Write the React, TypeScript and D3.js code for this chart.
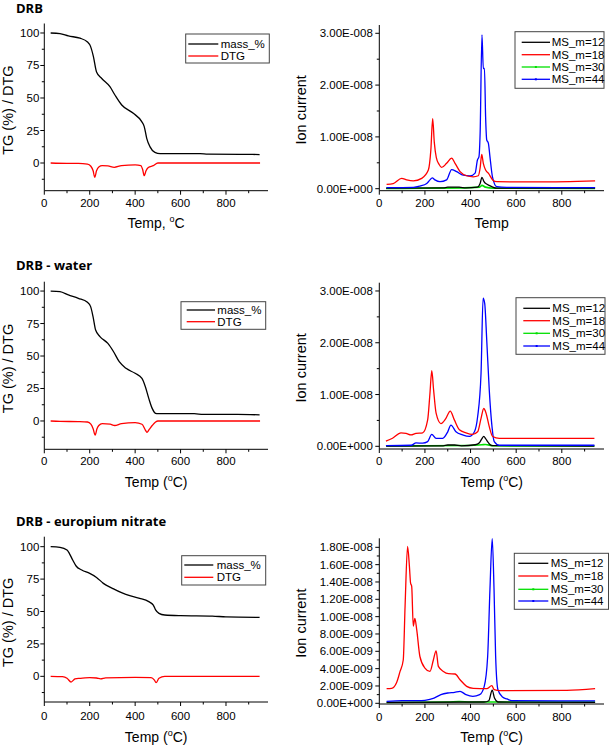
import React from "react";
import * as d3 from "d3";

type Pt = [number, number];

// ---------- DATA ----------
const X_DOMAIN: [number, number] = [0, 985];
const X_MAJOR = [0, 200, 400, 600, 800];
const X_MINOR = [100, 300, 500, 700, 900];
const TG_MAJOR = [0, 25, 50, 75, 100];
const TG_MINOR = [-12.5, 12.5, 37.5, 62.5, 87.5];
const MS_MAJOR_A = [0, 1, 2, 3]; // x 1e-8
const MS_MINOR_A = [0.5, 1.5, 2.5];
const MS_MAJOR_B = [0, 2, 4, 6, 8, 10, 12, 14, 16, 18]; // x 1e-9
const MS_MINOR_B = [1, 3, 5, 7, 9, 11, 13, 15, 17];
const UNIT_A = 1e-8;
const UNIT_B = 1e-9;

const TITLES = ["DRB", "DRB - water", "DRB - europium nitrate"];
const TG_SERIES = ["mass_%", "DTG"];
const MS_SERIES = ["MS_m=12", "MS_m=18", "MS_m=30", "MS_m=44"];

// Row 1: DRB
const drbMass: Pt[] = [[28,100],[69,99.5],[106,97.7],[157,96],[189,93.3],[204,89.5],[216,82],[230,70],[253,65],[289,58.7],[311,52.3],[341,44.6],[392,38.2],[429,31.8],[440,28],[451,19],[465,12.6],[487,8.2],[510,7.2],[686,7.2],[720,6.8],[862,6.7],[948,6.5]];
const drbDtg: Pt[] = [[28,0],[100,-0.3],[150,-0.3],[190,-0.8],[205,-2.5],[215,-6],[222,-11],[230,-6],[240,-3],[255,-2],[280,-2.2],[308,-3.3],[340,-2],[400,-1.5],[425,-2],[433,-5],[440,-9.7],[448,-6],[458,-3.5],[480,-2],[500,0],[950,0]];
const drbM12: Pt[] = [[30,0.01],[280,0.015],[300,0.03],[350,0.03],[380,0.015],[430,0.03],[442,0.1],[450,0.22],[459,0.135],[474,0.08],[493,0.04],[515,0.01],[946,0.01]];
const drbM18: Pt[] = [[32,0.084],[61,0.1],[98,0.2],[120,0.17],[149,0.15],[186,0.2],[215,0.36],[226,0.75],[234,1.35],[241,0.9],[250,0.6],[262,0.47],[273,0.41],[295,0.49],[317,0.59],[332,0.49],[354,0.33],[383,0.25],[412,0.23],[434,0.25],[442,0.4],[449,0.66],[456,0.49],[466,0.36],[478,0.3],[497,0.17],[515,0.135],[700,0.13],[946,0.15]];
const drbM30: Pt[] = [[30,0.005],[200,0.01],[400,0.02],[440,0.03],[450,0.065],[465,0.03],[500,0.01],[946,0.005]];
const drbM44: Pt[] = [[32,0.02],[150,0.025],[178,0.05],[208,0.1],[222,0.17],[232,0.21],[244,0.17],[266,0.135],[295,0.17],[317,0.37],[339,0.33],[368,0.26],[398,0.245],[420,0.3],[430,0.55],[437,0.62],[442,1.07],[450,2.97],[456,2.32],[461,2.32],[466,1.39],[471,0.94],[478,0.88],[485,0.62],[496,0.23],[515,0.04],[558,0.025],[946,0.02]];

// Row 2: DRB - water
const watMass: Pt[] = [[28,100],[69,99.5],[106,97],[150,94.4],[190,91.3],[204,88],[215,80],[226,70],[245,65],[280,59.7],[305,53.3],[330,45.6],[360,40.5],[400,36.7],[430,32.8],[445,26.4],[460,17.4],[475,9.7],[490,5.9],[500,5.6],[660,5.6],[700,5.1],[850,5.1],[948,4.7]];
const watDtg: Pt[] = [[28,0],[70,-0.3],[150,-0.5],[190,-0.8],[205,-2.5],[215,-6],[224,-10.8],[232,-6],[240,-3.5],[255,-2],[290,-2.5],[310,-3.5],[340,-2],[400,-1.3],[430,-2.5],[445,-7],[452,-8.7],[462,-6.5],[475,-3.5],[490,-0.8],[500,0],[950,0]];
const watM12: Pt[] = [[30,0.005],[280,0.01],[300,0.025],[330,0.025],[360,0.01],[420,0.03],[439,0.07],[450,0.15],[458,0.19],[466,0.15],[475,0.09],[494,0.013],[943,0.005]];
const watM18: Pt[] = [[29,0.1],[58,0.155],[95,0.26],[117,0.25],[139,0.22],[161,0.25],[190,0.26],[212,0.51],[222,1.02],[230,1.46],[238,1.09],[249,0.64],[270,0.44],[292,0.54],[311,0.68],[329,0.51],[351,0.32],[380,0.26],[409,0.23],[431,0.28],[446,0.54],[458,0.73],[468,0.64],[482,0.38],[497,0.19],[526,0.155],[943,0.155]];
const watM30: Pt[] = [[30,0.005],[200,0.01],[400,0.015],[450,0.03],[465,0.035],[500,0.01],[943,0.005]];
const watM44: Pt[] = [[29,0.013],[140,0.02],[161,0.065],[190,0.06],[212,0.09],[230,0.23],[249,0.155],[278,0.155],[300,0.28],[314,0.41],[336,0.28],[365,0.22],[395,0.19],[417,0.28],[431,0.57],[446,1.41],[455,2.86],[462,2.76],[471,2.05],[482,1.09],[494,0.38],[504,0.09],[526,0.02],[943,0.02]];

// Row 3: DRB - europium nitrate
const euMass: Pt[] = [[28,100],[69,99.5],[100,97.4],[110,94.9],[125,89.7],[140,85.1],[165,82],[200,79.4],[230,76.3],[260,71.7],[300,67.9],[340,64.5],[380,62],[420,60.2],[460,57.6],[480,55],[490,51.2],[505,48.6],[530,47.3],[600,46.8],[740,46.5],[800,45.8],[948,45.5]];
const euDtg: Pt[] = [[28,0],[80,-0.3],[100,-1.5],[118,-4.4],[135,-2],[150,-1.5],[160,-1.5],[200,-1],[230,-1.3],[248,-2],[270,-1.2],[400,-0.8],[470,-1],[485,-3],[492,-4.9],[505,-1.5],[530,0],[948,0]];
const euM12: Pt[] = [[32,0.11],[460,0.15],[480,0.3],[495,1.53],[505,0.6],[520,0.15],[946,0.11]];
const euM18: Pt[] = [[32,1.69],[54,1.73],[76,2.4],[91,3.68],[105,5.0],[113,11.2],[124,18.1],[132,15.8],[137,13.9],[142,13.5],[149,8.9],[156,9.8],[164,8.5],[178,5.4],[200,4.07],[222,3.68],[237,5.0],[249,6.06],[259,4.26],[281,3.68],[303,3.42],[332,3.38],[354,2.72],[383,1.96],[412,1.73],[471,1.69],[493,2.03],[504,1.57],[529,1.46],[822,1.5],[946,1.69]];
const euM30: Pt[] = [[32,0.1],[300,0.15],[350,0.2],[400,0.15],[946,0.15]];
const euM44: Pt[] = [[32,0.23],[100,0.3],[170,0.3],[200,0.35],[240,0.6],[270,1.0],[300,1.19],[330,1.27],[354,1.38],[380,1.0],[410,0.8],[440,1.0],[460,1.96],[475,5.4],[485,13.1],[495,19.0],[503,13.1],[510,5.4],[520,1.57],[540,0.73],[560,0.5],[580,0.3],[946,0.27]];

// ---------- STYLE / LAYOUT ----------
const FONT = "'Liberation Sans', Arial, sans-serif";
const TITLE_FONT = "'Open Sans', 'Liberation Sans', sans-serif";
const TG_COLORS = ["#000000", "#ff0000"];
const MS_COLORS = ["#000000", "#ff0000", "#00e000", "#0000ff"];
const LEFT_X: [number, number] = [44.3, 268];
const RIGHT_X: [number, number] = [379.3, 604];

function sci(v: number): string {
  if (v === 0) return "0.00E+000";
  let e = Math.floor(Math.log10(Math.abs(v)) + 1e-9);
  let m = v / Math.pow(10, e);
  if (Math.abs(m) >= 9.995) { m /= 10; e += 1; }
  return m.toFixed(2) + "E" + (e < 0 ? "-" : "+") + String(Math.abs(e)).padStart(3, "0");
}

function XTitle({ x, y, degree, paren }: { x: number; y: number; degree: boolean; paren: boolean }) {
  if (!degree) return <text x={x} y={y} textAnchor="middle" fontSize={14} fontFamily={FONT}>Temp</text>;
  return (
    <text x={x} y={y} textAnchor="middle" fontSize={14} fontFamily={FONT}>
      {paren ? "Temp (" : "Temp, "}
      <tspan fontSize={9} dy={-6}>o</tspan>
      <tspan dy={6}>{paren ? "C)" : "C"}</tspan>
    </text>
  );
}

function BottomAxis({ x, y, labelDy }: { x: d3.ScaleLinear<number, number>; y: number; labelDy: number }) {
  const r = x.range();
  return (
    <g>
      <line x1={r[0]} x2={r[1]} y1={y} y2={y} stroke="#000" strokeWidth={1} />
      {X_MAJOR.map((t) => (
        <g key={"M" + t}>
          <line x1={x(t)} x2={x(t)} y1={y} y2={y + 4} stroke="#000" />
          <text x={x(t)} y={y + labelDy} textAnchor="middle" fontSize={11.5} fontFamily={FONT}>{t}</text>
        </g>
      ))}
      {X_MINOR.map((t) => (
        <line key={"m" + t} x1={x(t)} x2={x(t)} y1={y} y2={y + 2.5} stroke="#000" />
      ))}
    </g>
  );
}

function LeftAxis({ y, x0, major, minor, fmt, gap }: { y: d3.ScaleLinear<number, number>; x0: number; major: number[]; minor: number[]; fmt: (v: number) => string; gap: number }) {
  const r = y.range();
  return (
    <g>
      <line x1={x0} x2={x0} y1={r[0]} y2={r[1]} stroke="#000" />
      {major.map((t) => (
        <g key={"M" + t}>
          <line x1={x0 - 4} x2={x0} y1={y(t)} y2={y(t)} stroke="#000" />
          <text x={x0 - gap} y={y(t) + 4} textAnchor="end" fontSize={11.5} fontFamily={FONT}>{fmt(t)}</text>
        </g>
      ))}
      {minor.map((t) => (
        <line key={"m" + t} x1={x0 - 2.5} x2={x0} y1={y(t)} y2={y(t)} stroke="#000" />
      ))}
    </g>
  );
}

type LegendCfg = { x0: number; x1: number; y0: number; y1: number; rows: number[]; lx0: number; lx1: number; tx: number };

function Legend({ cfg, labels, colors, markers }: { cfg: LegendCfg; labels: string[]; colors: string[]; markers?: boolean[] }) {
  return (
    <g>
      <rect x={cfg.x0} y={cfg.y0} width={cfg.x1 - cfg.x0} height={cfg.y1 - cfg.y0} fill="#fff" stroke="#444" strokeWidth={1} />
      {labels.map((l, i) => (
        <g key={l}>
          <line x1={cfg.lx0} x2={cfg.lx1} y1={cfg.rows[i]} y2={cfg.rows[i]} stroke={colors[i]} strokeWidth={1.3} />
          {markers && markers[i] && (
            <rect x={(cfg.lx0 + cfg.lx1) / 2 - 1} y={cfg.rows[i] - 1} width={2} height={2} fill={colors[i]} />
          )}
          <text x={cfg.tx} y={cfg.rows[i] + 4} fontSize={11.5} fontFamily={FONT}>{l}</text>
        </g>
      ))}
    </g>
  );
}

type TGCfg = {
  title: string; titleY: number; top: number; bottom: number; domain: [number, number];
  mass: Pt[]; dtg: Pt[]; legend: LegendCfg; labelDy: number; xTitleY: number; degreeParen: boolean;
};

function TGPanel({ c }: { c: TGCfg }) {
  const x = d3.scaleLinear().domain(X_DOMAIN).range(LEFT_X);
  const y = d3.scaleLinear().domain(c.domain).range([c.bottom, c.top]);
  const line = d3.line<Pt>().x((d) => x(d[0])).y((d) => y(d[1])).curve(d3.curveMonotoneX);
  return (
    <g>
      <text x={16} y={c.titleY} fontSize={13} fontWeight="bold" fontFamily={TITLE_FONT}>{c.title}</text>
      <path d={line(c.mass) || ""} fill="none" stroke={TG_COLORS[0]} strokeWidth={1.3} />
      <path d={line(c.dtg) || ""} fill="none" stroke={TG_COLORS[1]} strokeWidth={1.3} />
      <BottomAxis x={x} y={c.bottom} labelDy={c.labelDy} />
      <LeftAxis y={y} x0={LEFT_X[0]} major={TG_MAJOR} minor={TG_MINOR} fmt={(v) => String(v)} gap={5} />
      <text transform={`translate(12.5,${(c.top + c.bottom) / 2 + 3}) rotate(-90)`} textAnchor="middle" fontSize={14.5} fontFamily={FONT}>TG (%) / DTG</text>
      <XTitle x={(LEFT_X[0] + LEFT_X[1]) / 2} y={c.xTitleY} degree={true} paren={c.degreeParen} />
      <Legend cfg={c.legend} labels={TG_SERIES} colors={TG_COLORS} />
    </g>
  );
}

type MSCfg = {
  top: number; bottom: number; domain: [number, number]; unit: number; major: number[]; minor: number[];
  series: Pt[][]; legend: LegendCfg; labelDy: number; xTitleY: number; degree: boolean;
};

function MSPanel({ c }: { c: MSCfg }) {
  const x = d3.scaleLinear().domain(X_DOMAIN).range(RIGHT_X);
  const y = d3.scaleLinear().domain(c.domain).range([c.bottom, c.top]);
  const line = d3.line<Pt>().x((d) => x(d[0])).y((d) => y(d[1])).curve(d3.curveMonotoneX);
  const order = [2, 0, 3, 1];
  return (
    <g>
      <defs>
        <clipPath id={"clip" + Math.round(c.top)}>
          <rect x={RIGHT_X[0]} y={c.top - 1} width={RIGHT_X[1] - RIGHT_X[0]} height={c.bottom - c.top + 1} />
        </clipPath>
      </defs>
      <g clipPath={`url(#clip${Math.round(c.top)})`}>
        {order.map((i) => (
          <path key={i} d={line(c.series[i]) || ""} fill="none" stroke={MS_COLORS[i]} strokeWidth={i === 2 ? 1.6 : 1.3} />
        ))}
      </g>
      <BottomAxis x={x} y={c.bottom} labelDy={c.labelDy} />
      <LeftAxis y={y} x0={RIGHT_X[0]} major={c.major} minor={c.minor} fmt={(v) => sci(v * c.unit)} gap={6.5} />
      <text transform={`translate(306,${(c.top + c.bottom) / 2 + 2}) rotate(-90)`} textAnchor="middle" fontSize={14.5} fontFamily={FONT}>Ion current</text>
      <XTitle x={(RIGHT_X[0] + RIGHT_X[1]) / 2} y={c.xTitleY} degree={c.degree} paren={true} />
      <Legend cfg={c.legend} labels={MS_SERIES} colors={MS_COLORS} markers={[false, false, true, true]} />
    </g>
  );
}

const tgPanels: TGCfg[] = [
  {
    title: TITLES[0], titleY: 13, top: 23.5, bottom: 190.7, domain: [-21.3, 107.3], mass: drbMass, dtg: drbDtg,
    legend: { x0: 185.7, x1: 269.3, y0: 34, y1: 63, rows: [44, 56], lx0: 188.3, lx1: 218.3, tx: 220.7 },
    labelDy: 16, xTitleY: 228, degreeParen: false,
  },
  {
    title: TITLES[1], titleY: 270, top: 281.7, bottom: 449.3, domain: [-21.8, 107.2], mass: watMass, dtg: watDtg,
    legend: { x0: 181, x1: 265.7, y0: 301.7, y1: 329.3, rows: [310, 321.7], lx0: 186.7, lx1: 215, tx: 217.3 },
    labelDy: 16, xTitleY: 487, degreeParen: true,
  },
  {
    title: TITLES[2], titleY: 526, top: 536.7, bottom: 702, domain: [-19.8, 107.7], mass: euMass, dtg: euDtg,
    legend: { x0: 181.7, x1: 265.7, y0: 555.7, y1: 585, rows: [565, 577.3], lx0: 184.3, lx1: 213.3, tx: 216.7 },
    labelDy: 18, xTitleY: 742, degreeParen: true,
  },
];

const msPanels: MSCfg[] = [
  {
    top: 25, bottom: 190.7, domain: [-0.0386, 3.16], unit: UNIT_A, major: MS_MAJOR_A, minor: MS_MINOR_A,
    series: [drbM12, drbM18, drbM30, drbM44],
    legend: { x0: 515, x1: 604, y0: 31.7, y1: 88.3, rows: [42.3, 54.7, 67, 79.3], lx0: 521.7, lx1: 550, tx: 551.7 },
    labelDy: 16, xTitleY: 228, degree: false,
  },
  {
    top: 282.7, bottom: 449, domain: [-0.052, 3.16], unit: UNIT_A, major: MS_MAJOR_A, minor: MS_MINOR_A,
    series: [watM12, watM18, watM30, watM44],
    legend: { x0: 516, x1: 605, y0: 297.7, y1: 354.3, rows: [308.3, 320.7, 333.3, 346], lx0: 523.3, lx1: 550, tx: 552.3 },
    labelDy: 16, xTitleY: 487, degree: true,
  },
  {
    top: 538.3, bottom: 704, domain: [-0.08, 19.04], unit: UNIT_B, major: MS_MAJOR_B, minor: MS_MINOR_B,
    series: [euM12, euM18, euM30, euM44],
    legend: { x0: 514.3, x1: 608.5, y0: 553.3, y1: 609.3, rows: [563.3, 576, 589.3, 601], lx0: 518.3, lx1: 548.3, tx: 550.7 },
    labelDy: 17, xTitleY: 742, degree: true,
  },
];

export default function App() {
  return (
    <svg width={610} height={748} viewBox="0 0 610 748" style={{ position: "absolute", left: 0, top: 0, background: "#fff" }}>
      <rect x={0} y={0} width={610} height={748} fill="#fff" />
      {tgPanels.map((c, i) => <TGPanel key={"tg" + i} c={c} />)}
      {msPanels.map((c, i) => <MSPanel key={"ms" + i} c={c} />)}
    </svg>
  );
}
